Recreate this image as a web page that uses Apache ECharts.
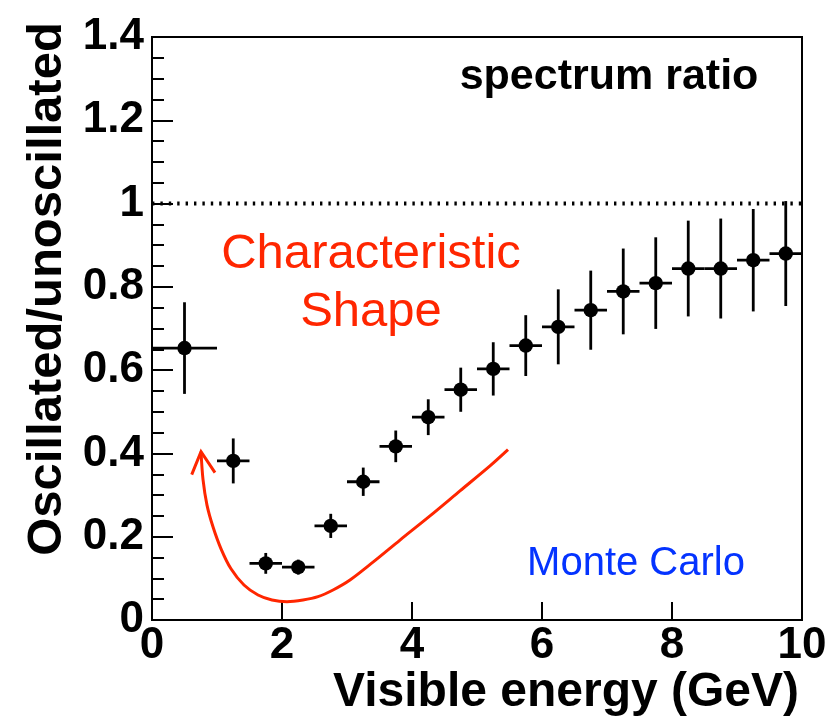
<!DOCTYPE html>
<html>
<head>
<meta charset="utf-8">
<script src="https://cdn.jsdelivr.net/npm/echarts@6/dist/echarts.min.js"></script>
<style>html,body{margin:0;padding:0;background:#fff;}#c{width:838px;height:725px;}</style>
</head>
<body>
<div id="c"></div>
<script>
// Bin centres (GeV), half bin widths, ratio values and errors
const binCenters = [0.5, 1.25, 1.75, 2.25, 2.75, 3.25, 3.75, 4.25, 4.75, 5.25, 5.75, 6.25, 6.75, 7.25, 7.75, 8.25, 8.75, 9.25, 9.75];
const binHalfWidths = [0.5, 0.25, 0.25, 0.25, 0.25, 0.25, 0.25, 0.25, 0.25, 0.25, 0.25, 0.25, 0.25, 0.25, 0.25, 0.25, 0.25, 0.25, 0.25];
const ratioValues = [0.653, 0.382, 0.136, 0.127, 0.226, 0.332, 0.417, 0.487, 0.553, 0.603, 0.659, 0.704, 0.744, 0.789, 0.809, 0.844, 0.844, 0.864, 0.880];
const ratioErrors = [0.110, 0.054, 0.025, 0.018, 0.029, 0.034, 0.038, 0.043, 0.053, 0.064, 0.073, 0.090, 0.095, 0.103, 0.110, 0.115, 0.120, 0.123, 0.126];

// Axis ticks
const xTicks = [0, 2, 4, 6, 8, 10];
const yTicks = [0, 0.2, 0.4, 0.6, 0.8, 1, 1.2, 1.4];
const referenceLevel = 1;

// Hand-drawn annotation arrow (in data coordinates)
const arrowCurveX = [0.754, 0.785, 0.846, 0.938, 1.062, 1.215, 1.415, 1.631, 1.846, 2.077, 2.323, 2.554, 2.785, 3.046, 3.400, 3.815, 4.277, 4.738, 5.200, 5.477];
const arrowCurveY = [0.404, 0.337, 0.276, 0.224, 0.171, 0.123, 0.084, 0.060, 0.048, 0.044, 0.048, 0.056, 0.072, 0.096, 0.139, 0.192, 0.250, 0.310, 0.370, 0.409];
const arrowHeadX = [0.611, 0.754, 0.969];
const arrowHeadY = [0.349, 0.404, 0.354];

// Texts
const titleText = 'spectrum ratio';
const annotationLines = ['Characteristic', 'Shape'];
const mcText = 'Monte Carlo';
const xTitle = 'Visible energy (GeV)';
const yTitle = 'Oscillated/unoscillated';

const FONT = '"Liberation Sans", Arial, Helvetica, sans-serif';
const RED = '#ff2600';
const BLUE = '#0433ff';

const pointData = binCenters.map((x, i) => [x, ratioValues[i], binHalfWidths[i], ratioErrors[i]]);
const curveData = arrowCurveX.map((x, i) => [x, arrowCurveY[i]]);
const headData = arrowHeadX.map((x, i) => [x, arrowHeadY[i]]);

const chart = echarts.init(document.getElementById('c'), null, {renderer: 'canvas'});
chart.setOption({
  animation: false,
  backgroundColor: '#fff',
  grid: {left: 152, top: 37, right: 36, bottom: 105, show: true, borderColor: '#000', borderWidth: 2, backgroundColor: 'transparent'},
  xAxis: {
    type: 'value', min: xTicks[0], max: xTicks[xTicks.length - 1], interval: 2,
    axisLine: {show: true, onZero: false, lineStyle: {color: '#000', width: 2}},
    axisTick: {show: true, inside: true, length: 18, lineStyle: {color: '#000', width: 2}},
    minorTick: {show: false},
    splitLine: {show: false},
    axisLabel: {color: '#000', fontFamily: FONT, fontWeight: 'bold', fontSize: 44, margin: 4}
  },
  yAxis: {
    type: 'value', min: yTicks[0], max: yTicks[yTicks.length - 1], interval: 0.2,
    axisLine: {show: true, onZero: false, lineStyle: {color: '#000', width: 2}},
    axisTick: {show: true, inside: true, length: 21, lineStyle: {color: '#000', width: 2}},
    minorTick: {show: true, splitNumber: 4, length: 12, lineStyle: {color: '#000', width: 2}},
    splitLine: {show: false},
    axisLabel: {color: '#000', fontFamily: FONT, fontWeight: 'bold', fontSize: 44, margin: 8}
  },
  series: [
    {
      type: 'line', data: [[xTicks[0], referenceLevel], [xTicks[xTicks.length - 1], referenceLevel]],
      symbol: 'none', silent: true,
      lineStyle: {color: '#000', width: 4, type: [2.4, 6]}
    },
    {
      type: 'line', data: curveData, smooth: 0.3, symbol: 'none', silent: true,
      lineStyle: {color: RED, width: 3}
    },
    {
      type: 'line', data: headData, symbol: 'none', silent: true,
      lineStyle: {color: RED, width: 3, join: 'miter'}
    },
    {
      type: 'custom', data: pointData,
      renderItem: function (params, api) {
        const x = api.value(0), y = api.value(1), hw = api.value(2), e = api.value(3);
        const p = api.coord([x, y]);
        const l = api.coord([x - hw, y]);
        const r = api.coord([x + hw, y]);
        const t = api.coord([x, y + e]);
        const b = api.coord([x, y - e]);
        return {
          type: 'group',
          children: [
            {type: 'line', shape: {x1: l[0], y1: l[1], x2: r[0], y2: r[1]}, style: {stroke: '#000', lineWidth: 2.8}},
            {type: 'line', shape: {x1: t[0], y1: t[1], x2: b[0], y2: b[1]}, style: {stroke: '#000', lineWidth: 2.8}},
            {type: 'circle', shape: {cx: p[0], cy: p[1], r: 7.2}, style: {fill: '#000'}}
          ]
        };
      }
    }
  ],
  graphic: [
    {type: 'text', x: 609, y: 77, style: {text: titleText, font: 'bold 43px ' + FONT, fill: '#000', align: 'center', verticalAlign: 'middle'}},
    {type: 'text', x: 371, y: 254, style: {text: annotationLines[0], font: '49px ' + FONT, fill: RED, align: 'center', verticalAlign: 'middle'}},
    {type: 'text', x: 371, y: 312, style: {text: annotationLines[1], font: '49px ' + FONT, fill: RED, align: 'center', verticalAlign: 'middle'}},
    {type: 'text', x: 636, y: 564, style: {text: mcText, font: '40px ' + FONT, fill: BLUE, align: 'center', verticalAlign: 'middle'}},
    {type: 'text', x: 799, y: 693, style: {text: xTitle, font: 'bold 48px ' + FONT, fill: '#000', align: 'right', verticalAlign: 'middle'}},
    {type: 'text', x: 47, y: 289, rotation: Math.PI / 2, style: {text: yTitle, font: 'bold 49px ' + FONT, fill: '#000', align: 'center', verticalAlign: 'middle'}}
  ]
});
</script>
</body>
</html>
